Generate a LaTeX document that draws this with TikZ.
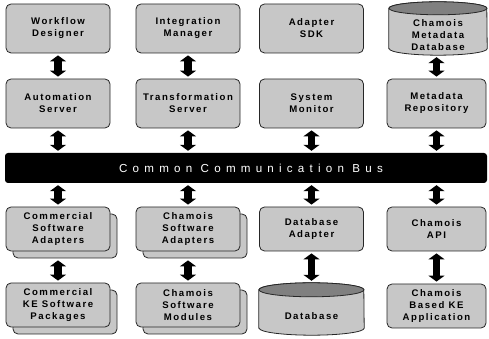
\documentclass[tikz,border=0pt]{standalone}
\usepackage{fontspec}
\setmainfont{Liberation Sans}
\newfontfamily\boxfont[LetterSpace=16]{Liberation Sans}
\newfontfamily\busfont[LetterSpace=45]{Liberation Sans}
\usetikzlibrary{arrows.meta,backgrounds,shadows}
\tikzset{
  blk/.style={draw=black!85, line width=0.8pt, fill=black!22, rounded corners=5pt,
    align=center, inner sep=0pt,
    font=\boxfont\bfseries\fontsize{9.6}{12}\selectfont},
  txt/.style={align=center, inner sep=0pt,
    font=\boxfont\bfseries\fontsize{9.6}{12}\selectfont},
  rA/.style={minimum height=49pt},
  rB/.style={minimum height=44pt},
  wA/.style={minimum width=104pt},
  wB/.style={minimum width=99pt},
  stack/.style={general shadow={shadow xshift=7pt, shadow yshift=-7pt,
    fill=black!22, draw=black!85, line width=0.8pt}},
  dbl/.style={line width=7.5pt,
    {Triangle[width=16pt,length=6pt]}-{Triangle[width=16pt,length=6pt]},
    shorten <=2pt, shorten >=2pt},
  cylbody/.style={draw=black!85, line width=0.8pt, fill=black!22},
  cyltop/.style={draw=black!85, line width=0.8pt, fill=black!50}
}
\begin{document}
\begin{tikzpicture}[x=1pt,y=1pt]
\useasboundingbox (0,0) rectangle (489,339);

% row 1
\node[blk,rA,wA] (wd)  at (58,310.5) {Workflow\\Designer};
\node[blk,rA,wA] (im)  at (188,310.5) {Integration\\Manager};
\node[blk,rA,wA] (sdk) at (311.5,310.5) {Adapter\\SDK};
\node[txt,minimum width=98pt,minimum height=40pt] (cmdb) at (438,304) {Chamois\\Metadata\\Database};

% row 2
\node[blk,rA,wA] (as) at (58,235.5) {Automation\\Server};
\node[blk,rA,wA] (ts) at (188,235.5) {Transformation\\Server};
\node[blk,rA,wA] (sm) at (311.5,235.5) {System\\Monitor};
\node[blk,rA,wB] (mr) at (436.5,235.5) {Metadata\\Repository};

% bus
\node[fill=black, rounded corners=3pt, minimum width=482pt, minimum height=30pt,
  inner sep=0pt, text=white, font=\busfont\fontsize{11.6}{13}\selectfont]
  (bus) at (246,171) {\hspace*{10pt}Common Communication Bus};

% row 3
\node[blk,rB,wA,stack] (csa)  at (58,110) {Commercial\\Software\\Adapters};
\node[blk,rB,wA,stack] (chsa) at (188,110) {Chamois\\Software\\Adapters};
\node[blk,rB,wA] (da)  at (311.5,110) {Database\\Adapter};
\node[blk,rB,wB] (api) at (436.5,110) {Chamois\\API};

% row 4
\node[blk,rB,wA,stack] (ckp) at (58,34) {Commercial\\KE Software\\Packages};
\node[blk,rB,wA,stack] (csm) at (188,34) {Chamois\\Software\\Modules};
\node[txt,minimum width=105pt,minimum height=38pt] (db) at (311.5,23) {Database};
\node[blk,rB,wB] (ckea) at (436.5,33) {Chamois\\Based KE\\Application};

% cylinders
\begin{scope}[on background layer]
  \path[cylbody] ([yshift=6.5pt]cmdb.south west) -- ([yshift=6.5pt]cmdb.north west)
    arc[start angle=180,end angle=0,x radius=49pt,y radius=6.5pt]
    -- ([yshift=6.5pt]cmdb.south east)
    arc[start angle=0,end angle=-180,x radius=49pt,y radius=6.5pt] -- cycle;
  \path[cyltop] ([yshift=6.5pt]cmdb.north) ellipse[x radius=49pt,y radius=6.5pt];
  \path[cylbody] ([yshift=7pt]db.south west) -- ([yshift=7pt]db.north west)
    arc[start angle=180,end angle=0,x radius=52.5pt,y radius=7pt]
    -- ([yshift=7pt]db.south east)
    arc[start angle=0,end angle=-180,x radius=52.5pt,y radius=7pt] -- cycle;
  \path[cyltop] ([yshift=7pt]db.north) ellipse[x radius=52.5pt,y radius=7pt];
\end{scope}

% arrows row1-row2
\draw[dbl] (wd) -- (as);
\draw[dbl] (im) -- (ts);
\draw[dbl] (cmdb.south -| mr.north) -- (mr.north);
% row2 - bus
\draw[dbl] (as.south) -- (as.south |- bus.north);
\draw[dbl] (ts.south) -- (ts.south |- bus.north);
\draw[dbl] (sm.south) -- (sm.south |- bus.north);
\draw[dbl] (mr.south) -- (mr.south |- bus.north);
% bus - row3
\draw[dbl] (bus.south -| csa.north) -- (csa.north);
\draw[dbl] (bus.south -| chsa.north) -- (chsa.north);
\draw[dbl] (bus.south -| da.north) -- (da.north);
\draw[dbl] (bus.south -| api.north) -- (api.north);
% row3 - row4
\draw[dbl, shorten <=9pt] (csa.south) -- (ckp.north);
\draw[dbl, shorten <=9pt] (chsa.south) -- (csm.north);
\draw[dbl, shorten >=16pt] (da.south) -- (db.north);
\draw[dbl] (api.south) -- (ckea.north);
\end{tikzpicture}
\end{document}
